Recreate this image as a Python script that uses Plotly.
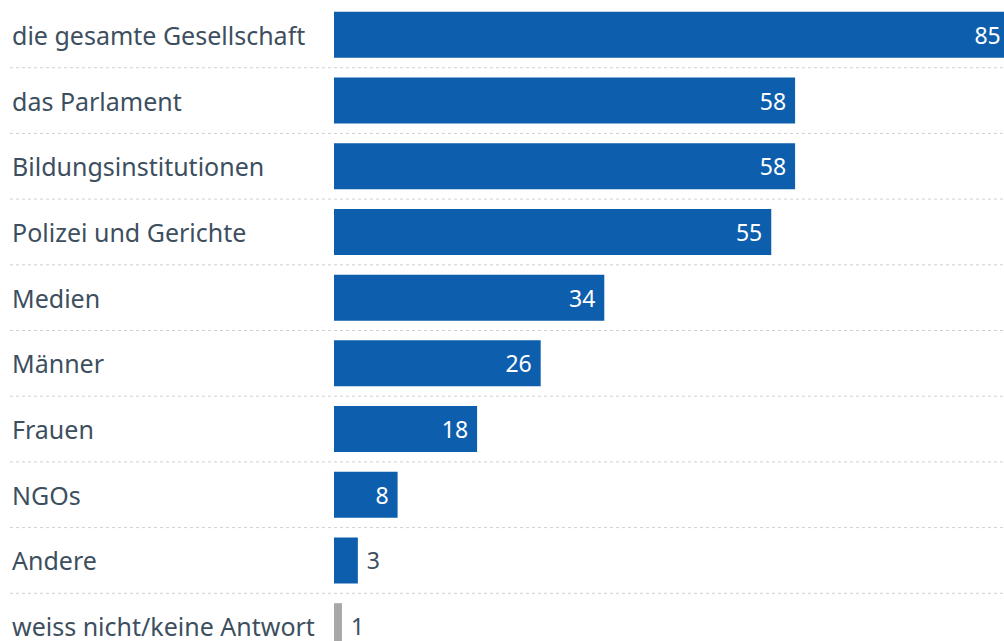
import plotly.graph_objects as go

categories = ["die gesamte Gesellschaft", "das Parlament", "Bildungsinstitutionen",
              "Polizei und Gerichte", "Medien", "Männer", "Frauen", "NGOs", "Andere",
              "weiss nicht/keine Antwort"]
values = [85, 58, 58, 55, 34, 26, 18, 8, 3, 1]

W, H = 1004, 641
L = 334
plot_w = W - L
px_per_unit = 7.95
row_px = 65.7
top = 2
plot_h = H - top

BLUE = "#0d5eac"
GRAY = "#a8a8a8"
TXT = "#3d4f5e"
FONT = "Noto Sans"
FS_LABEL = 25
FS_VALUE = 23

colors = [GRAY if c.startswith("weiss") else BLUE for c in categories]
positions = ["inside" if v >= 5 else "outside" for v in values]
texts = [f"{v}\u00a0" if p == "inside" else f"\u00a0{v}" for v, p in zip(values, positions)]

fig = go.Figure(go.Bar(
    x=values, y=categories, orientation="h",
    marker=dict(color=colors, line=dict(width=0)),
    width=0.70,
    text=texts, textposition=positions,
    insidetextanchor="end",
    insidetextfont=dict(color="white", size=FS_VALUE, family=FONT),
    outsidetextfont=dict(color=TXT, size=FS_VALUE, family=FONT),
    textangle=0, cliponaxis=True,
    hoverinfo="skip",
))

n_rows = plot_h / row_px
fig.update_yaxes(range=[-0.5 + n_rows, -0.5], showticklabels=False, showgrid=False,
                 zeroline=False, showline=False, ticks="")
fig.update_xaxes(range=[0, plot_w / px_per_unit], showticklabels=False, showgrid=False,
                 zeroline=False, showline=False, ticks="")

x_line0 = (10 - L) / plot_w
shapes = []
for i in range(len(categories) - 1):
    shapes.append(dict(type="line", xref="paper", yref="y", x0=x_line0, x1=1,
                       y0=i + 0.5, y1=i + 0.5,
                       line=dict(color="#d0d0d0", width=1, dash="dot"), layer="below"))

annotations = []
for i, c in enumerate(categories):
    annotations.append(dict(xref="paper", yref="y", x=(10 - L) / plot_w, y=i,
                            text=c, showarrow=False, xanchor="left", yanchor="middle",
                            font=dict(size=FS_LABEL, color=TXT, family=FONT)))

fig.update_layout(
    width=W, height=H,
    margin=dict(l=L, r=0, t=top, b=0),
    paper_bgcolor="white", plot_bgcolor="white",
    showlegend=False, shapes=shapes, annotations=annotations,
    font=dict(family=FONT, color=TXT),
)

fig.write_html("out.html", config={"displayModeBar": False},
               post_script="document.body.style.margin='0';document.body.style.overflow='hidden';")
